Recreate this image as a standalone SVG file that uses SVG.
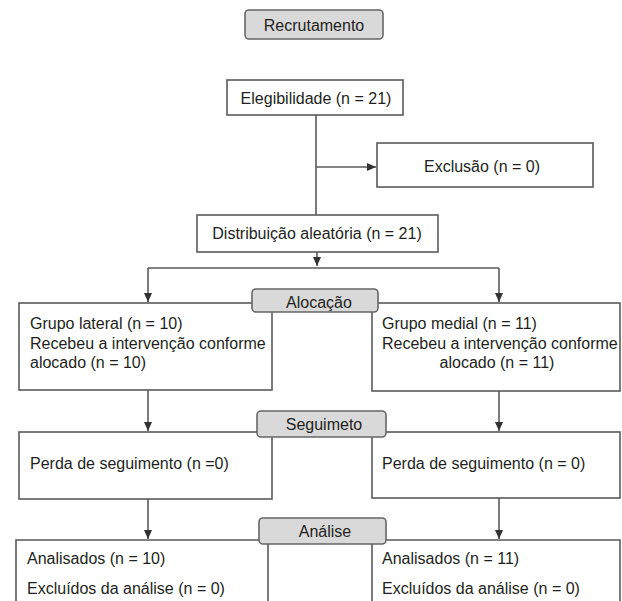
<svg xmlns="http://www.w3.org/2000/svg" width="622" height="601" viewBox="0 0 622 601">
<defs>
<style>
.box{fill:#fff;stroke:#5a5a5a;stroke-width:1.6}
.lab{fill:#d9d9da;stroke:#666;stroke-width:1.6}
.ln{fill:none;stroke:#5a5a5a;stroke-width:1.6}
text{font-family:"Liberation Sans",Arial,sans-serif;font-size:16px;fill:#231f20}
.c{text-anchor:middle}
</style>
<marker id="ah" markerUnits="userSpaceOnUse" markerWidth="9" markerHeight="8" refX="9" refY="4" orient="auto">
<path d="M0,0 L9,4 L0,8 z" fill="#333"/>
</marker>
</defs>
<rect width="622" height="601" fill="#fff"/>
<g id="connectors">
<line class="ln" x1="316" y1="115" x2="316" y2="215"/>
<line class="ln" x1="316" y1="167" x2="376" y2="167" marker-end="url(#ah)"/>
<line class="ln" x1="317" y1="252" x2="317" y2="266" marker-end="url(#ah)"/>
<line class="ln" x1="148" y1="268" x2="499" y2="268"/>
<line class="ln" x1="148" y1="268" x2="148" y2="302" marker-end="url(#ah)"/>
<line class="ln" x1="499" y1="268" x2="499" y2="302" marker-end="url(#ah)"/>
<line class="ln" x1="148" y1="390" x2="148" y2="431" marker-end="url(#ah)"/>
<line class="ln" x1="499" y1="391" x2="499" y2="431" marker-end="url(#ah)"/>
<line class="ln" x1="148" y1="499" x2="148" y2="539" marker-end="url(#ah)"/>
<line class="ln" x1="499" y1="498" x2="499" y2="539" marker-end="url(#ah)"/>
</g>
<g id="recrutamento">
<rect class="lab" x="245" y="10" width="138" height="29" rx="4"/>
<text class="c" x="314" y="31">Recrutamento</text>
</g>
<g id="elegibilidade">
<rect class="box" x="227" y="80" width="176" height="35"/>
<text class="c" x="316" y="104">Elegibilidade (n = 21)</text>
</g>
<g id="exclusao">
<rect class="box" x="377" y="143" width="216" height="44"/>
<text class="c" x="482" y="172">Exclusão (n = 0)</text>
</g>
<g id="distribuicao">
<rect class="box" x="197" y="215" width="241" height="37"/>
<text class="c" x="317" y="239">Distribuição aleatória (n = 21)</text>
</g>
<g id="grupo-lateral">
<rect class="box" x="19" y="303" width="253" height="87"/>
<text x="30" y="329">Grupo lateral (n = 10)</text>
<text x="30" y="349">Recebeu a intervenção conforme</text>
<text x="30" y="368">alocado (n = 10)</text>
</g>
<g id="grupo-medial">
<rect class="box" x="372" y="303" width="248" height="88"/>
<text x="382" y="329">Grupo medial (n = 11)</text>
<text x="382" y="349">Recebeu a intervenção conforme</text>
<text class="c" x="497" y="368">alocado (n = 11)</text>
</g>
<g id="alocacao">
<rect class="lab" x="252" y="289" width="126" height="23" rx="4"/>
<text class="c" x="319" y="308">Alocação</text>
</g>
<g id="perda-lateral">
<rect class="box" x="19" y="432" width="253" height="67"/>
<text x="30" y="469">Perda de seguimento (n =0)</text>
</g>
<g id="perda-medial">
<rect class="box" x="372" y="432" width="248" height="66"/>
<text x="382" y="469">Perda de seguimento (n = 0)</text>
</g>
<g id="seguimento">
<rect class="lab" x="257" y="411" width="129" height="26" rx="4"/>
<text class="c" x="324" y="430">Seguimeto</text>
</g>
<g id="analise-lateral">
<path class="box" d="M16,605 L16,540 L268,540 L268,605"/>
<text x="27" y="564">Analisados (n = 10)</text>
<text x="27" y="594">Excluídos da análise (n = 0)</text>
</g>
<g id="analise-medial">
<path class="box" d="M372,605 L372,540 L620,540 L620,605"/>
<text x="382" y="564">Analisados (n = 11)</text>
<text x="382" y="594">Excluídos da análise (n = 0)</text>
</g>
<g id="analise">
<rect class="lab" x="259" y="518" width="127" height="26" rx="4"/>
<text class="c" x="325" y="537">Análise</text>
</g>
</svg>
